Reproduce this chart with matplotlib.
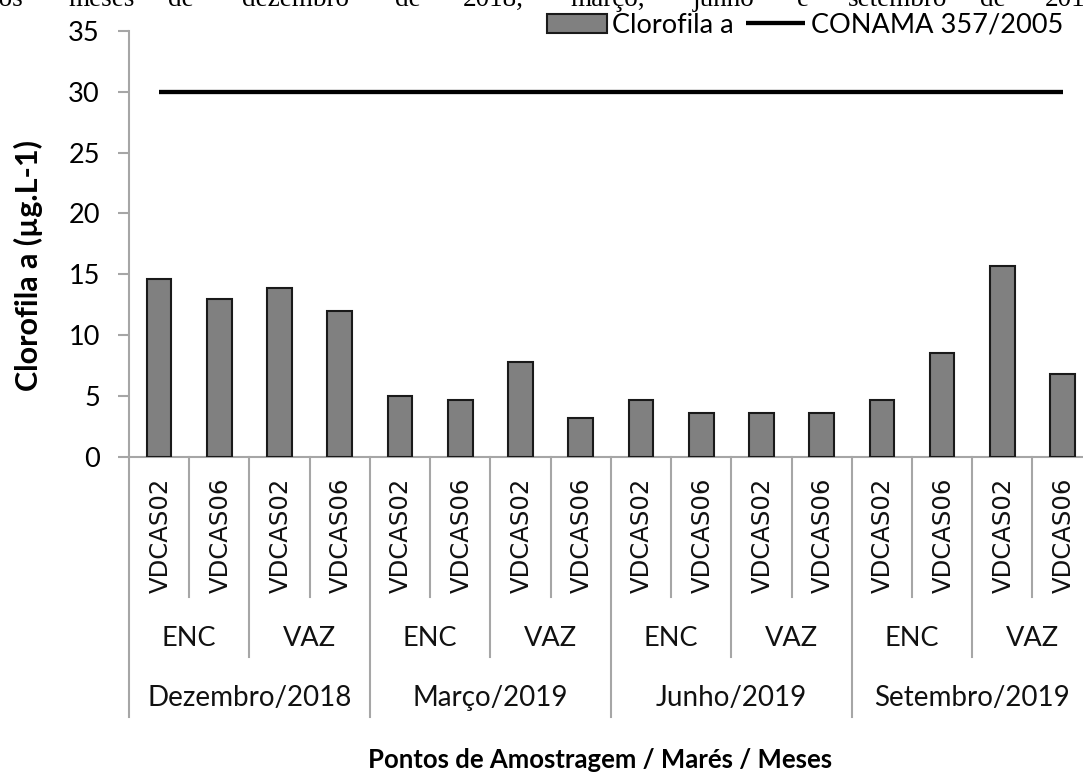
import matplotlib
matplotlib.use("Agg")
import matplotlib.pyplot as plt

# ---- data ----
months = ["Dezembro/2018", "Março/2019", "Junho/2019", "Setembro/2019"]
tides = ["ENC", "VAZ"]
points = ["VDCAS02", "VDCAS06"]
clorofila = [14.6, 13.0, 13.9, 12.0,
             5.0, 4.7, 7.8, 3.2,
             4.7, 3.6, 3.6, 3.6,
             4.7, 8.5, 15.7, 6.8]
conama_limit = 30
yticks = [0, 5, 10, 15, 20, 25, 30, 35]
caption_words = ["dos", "meses", "de", "dezembro", "de", "2018,", "março,",
                 "junho", "e", "setembro", "de", "2019"]

W, H = 1083, 773
fig = plt.figure(figsize=(W / 100, H / 100), dpi=100)

ax_left, ax_right = 129, 1092.7
ax_bottom, ax_top = 456.7, 31.0
ax = fig.add_axes([ax_left / W, 1 - ax_bottom / H,
                   (ax_right - ax_left) / W, (ax_bottom - ax_top) / H])

sans = "Lato"
gray = "#a6a6a6"
n = len(clorofila)
xs = list(range(n))

bars = ax.bar(xs, clorofila, width=0.41, color="#808080",
              edgecolor="#1a1a1a", linewidth=1.5, label="Clorofila a", zorder=3)
line, = ax.plot([xs[0], xs[-1]], [conama_limit, conama_limit], color="black",
                linewidth=3.1, solid_capstyle="butt", label="CONAMA 357/2005", zorder=4)

ax.set_xlim(-0.5, n - 0.5)
ax.set_ylim(0, 35)
ax.set_yticks(yticks)
ax.set_yticklabels([str(t) for t in yticks], fontfamily=sans, fontsize=19.5)
ax.tick_params(axis="y", direction="out", length=8, width=1.5, color=gray, pad=13)
ax.set_xticks([])
for s in ["top", "right"]:
    ax.spines[s].set_visible(False)
for s in ["left", "bottom"]:
    ax.spines[s].set_color(gray)
    ax.spines[s].set_linewidth(1.5)

# category separators (hierarchical axis)
axh = ax_bottom - ax_top
def frac(px):
    return -(px - ax_bottom) / axh

tr = ax.get_xaxis_transform()
for k in range(n + 1):
    xb = k - 0.5
    if k % 4 == 0:
        yb = frac(717)
    elif k % 2 == 0:
        yb = frac(657)
    else:
        yb = frac(597)
    ax.plot([xb, xb], [0, yb], transform=tr, color=gray, linewidth=1.5,
            clip_on=False, zorder=1)

# point labels
for i in range(n):
    ax.text(xs[i] + 0.02, frac(478), points[i % 2], transform=tr, rotation=90,
            ha="center", va="top", fontsize=17.5, family="DejaVu Sans",
            color="#111111")
# tide labels
for j in range(n // 2):
    ax.text(2 * j + 0.5, frac(638), tides[j % 2], transform=tr, ha="center",
            va="center", fontsize=19.5, family=sans, color="#111111")
# month labels
for m in range(len(months)):
    ax.text(4 * m + 1.5, frac(698), months[m], transform=tr, ha="center",
            va="center", fontsize=20, family=sans, color="#111111")

fig.text(600 / W, 1 - 760 / H, "Pontos de Amostragem / Marés / Meses",
         ha="center", va="center", fontsize=18.5, family=sans, fontweight="bold")
fig.text(28 / W, 1 - 266 / H, "Clorofila a (µg.L-1)", rotation=90,
         ha="center", va="center", fontsize=22, family=sans, fontweight="bold")

leg = fig.legend(handles=[bars, line], ncol=2, loc="upper left",
                 bbox_to_anchor=(547 / W, 1 - 13 / H), frameon=False,
                 prop={"family": sans, "size": 19.5}, handlelength=2.2,
                 handleheight=0.72, handletextpad=0.2, columnspacing=0.45,
                 borderpad=0, borderaxespad=0)

# partially visible caption at top (cut off at the top edge, as in the source)
caption_x = [-15, 68, 168, 242, 395, 463, 570, 693, 797, 848, 980, 1045]
for wd, xp in zip(caption_words, caption_x):
    fig.text(xp / W, 1 - 6 / H, wd, ha="left", va="baseline",
             family="Liberation Serif", fontsize=19.5)

fig.savefig("out.png", dpi=100)
